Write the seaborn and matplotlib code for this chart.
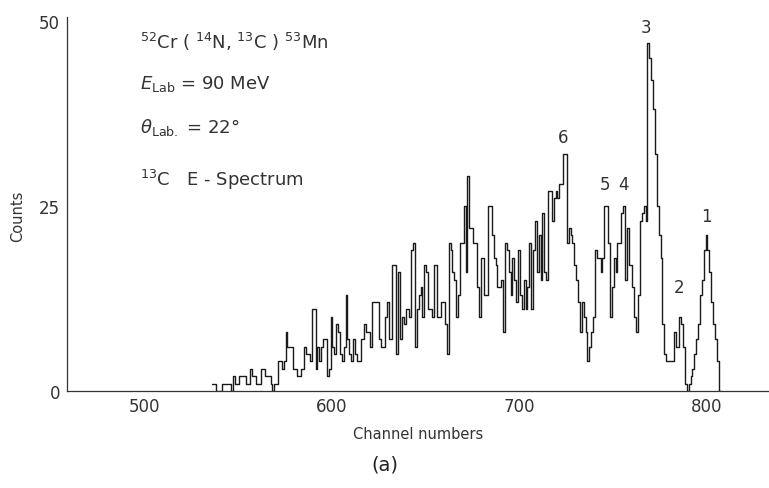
import numpy as np
import pandas as pd
import matplotlib
matplotlib.use("Agg")
import matplotlib.pyplot as plt
import seaborn as sns

# ---- data ----
channel_start = 537
counts = [
    1, 1, 0, 0, 0, 1, 1, 1, 1, 1,          # 537-546
    0, 2, 1, 1, 2, 2, 2, 2, 1, 1,          # 547-556
    3, 2, 2, 1, 1, 1, 3, 3, 2, 2,          # 557-566
    2, 1, 0, 1, 1, 4, 4, 3, 4, 8,          # 567-576
    6, 6, 6, 3, 3, 2, 2, 3, 3, 6,          # 577-586
    5, 5, 4, 11, 11, 3, 6, 4, 6, 7,        # 587-596
    7, 2, 3, 10, 6, 5, 9, 8, 5, 4,         # 597-606
    6, 13, 7, 5, 4, 7, 5, 4, 4, 7,         # 607-616
    7, 9, 8, 8, 6, 12, 12, 12, 12, 7,      # 617-626
    6, 6, 10, 12, 7, 7, 17, 17, 5, 16,     # 627-636
    7, 10, 9, 11, 11, 10, 19, 20, 6, 11,   # 637-646
    13, 14, 10, 17, 16, 11, 11, 10, 17, 17,  # 647-656
    10, 10, 12, 12, 9, 5, 20, 19, 16, 15,  # 657-666
    10, 13, 20, 20, 25, 16, 29, 22, 22, 20,  # 667-676
    20, 14, 10, 18, 18, 13, 13, 25, 25, 21,  # 677-686
    18, 17, 14, 14, 15, 8, 20, 19, 16, 13,   # 687-696
    18, 15, 12, 19, 13, 11, 15, 11, 14, 20,  # 697-706
    11, 19, 23, 16, 21, 15, 24, 16, 15, 27,  # 707-716
    27, 23, 26, 27, 26, 28, 28, 32, 32, 20,  # 717-726
    22, 21, 20, 17, 15, 12, 8, 12, 10, 8,    # 727-736
    4, 6, 8, 10, 19, 18, 18, 16, 18, 25,     # 737-746
    25, 20, 10, 14, 18, 16, 20, 20, 24, 25,  # 747-756
    15, 22, 17, 17, 14, 10, 8, 13, 23, 24,   # 757-766
    25, 23, 47, 45, 42, 38, 32, 25, 21, 18,  # 767-776
    9, 5, 4, 4, 4, 4, 8, 6, 6, 10,           # 777-786
    9, 6, 1, 0, 1, 2, 3, 5, 7, 9,            # 787-796
    13, 15, 19, 21, 19, 16, 12, 9, 7, 4,     # 797-806
    0,                                       # 807
]
channels = np.arange(channel_start, channel_start + len(counts))

x_ticks = [500, 600, 700, 800]
y_ticks = [0, 25, 50]

peak_labels = ["3", "6", "5", "4", "1", "2"]
peak_label_x = [767.7, 723.5, 745.9, 755.5, 799.7, 785.3]
peak_label_y = [49.2, 34.3, 28.0, 28.0, 23.6, 14.0]

info_lines = [
    r"$^{52}$Cr ( $^{14}$N, $^{13}$C ) $^{53}$Mn",
    r"$E_{\rm Lab}$ = 90 MeV",
    r"$\theta_{\rm Lab.}$ = 22°",
    r"$^{13}$C   E - Spectrum",
]

df = pd.DataFrame({"channel": channels, "counts": counts})

# ---- figure ----
sns.set_style("white")
plt.rcParams["font.family"] = ["DejaVu Sans"]
plt.rcParams["mathtext.fontset"] = "dejavusans"

fig = plt.figure(figsize=(7.69, 4.89), dpi=100)
ax = fig.add_axes([0.0871, 0.1984, 0.9129, 0.765])

sns.histplot(data=df, x="channel", weights="counts", discrete=True,
             element="step", fill=False, color="#1a1a1a", linewidth=1.0, ax=ax)

ax.set_xlim(458.9, 833.3)
ax.set_ylim(0, 50.5)
ax.set_xticks(x_ticks)
ax.set_yticks(y_ticks)
ax.set_xticklabels([str(t) for t in x_ticks], fontsize=12, color="#333333")
ax.set_yticklabels([str(t) for t in y_ticks], fontsize=12, color="#333333")
ax.tick_params(axis="x", direction="in", length=5, width=0.8, pad=4, color="#333333")
ax.tick_params(axis="y", direction="out", length=4, width=0.8, pad=1, color="#333333")

for side in ["top", "right"]:
    ax.spines[side].set_visible(False)
for side in ["left", "bottom"]:
    ax.spines[side].set_color("#333333")
    ax.spines[side].set_linewidth(0.9)

ax.set_xlabel("Channel numbers", fontsize=10.5, color="#333333", labelpad=8)
ax.set_ylabel("Counts", fontsize=10.5, color="#333333")
ax.yaxis.set_label_coords(-0.06, 0.47)

# info text block
info_y_px = [42, 84, 127, 180]
for line, ypx in zip(info_lines, info_y_px):
    fig.text(140 / 769, 1 - ypx / 489, line, fontsize=13, color="#333333",
             ha="left", va="center")

# peak labels
for lab, px, py in zip(peak_labels, peak_label_x, peak_label_y):
    ax.text(px, py, lab, fontsize=12, color="#333333", ha="center", va="center")

fig.text(385 / 769, 1 - 465 / 489, "(a)", fontsize=14, color="#222222",
         ha="center", va="center")

fig.savefig("out.png", dpi=100)
